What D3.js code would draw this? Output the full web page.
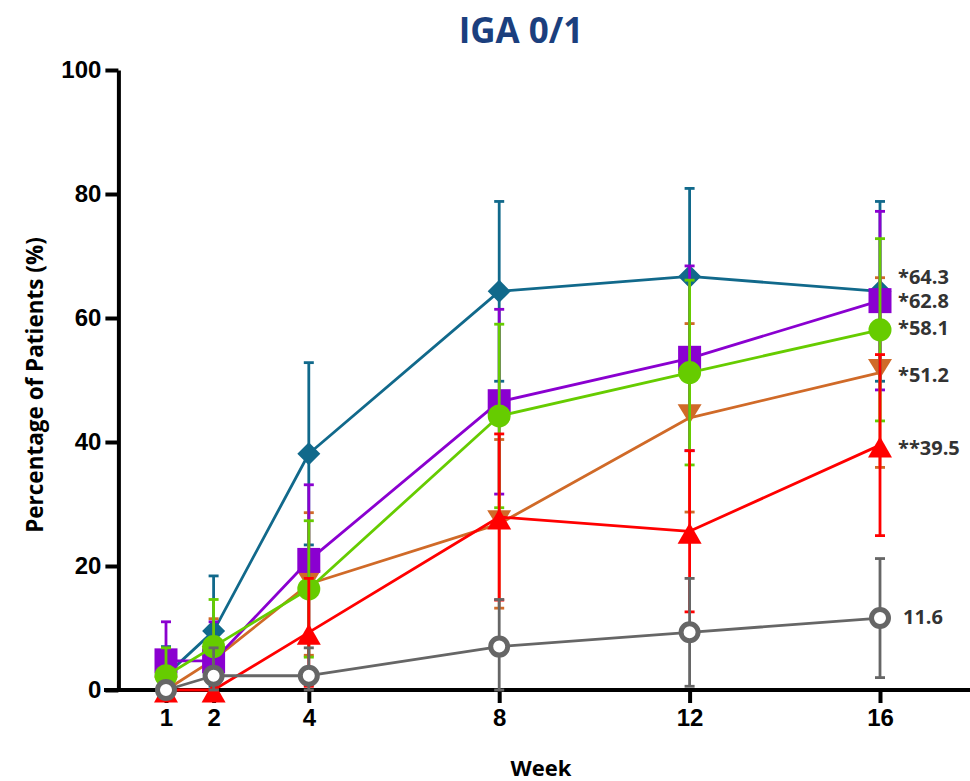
<!DOCTYPE html>
<html>
<head>
<meta charset="utf-8">
<script src="https://cdn.jsdelivr.net/npm/d3@7"></script>
<style>
  html, body { margin: 0; padding: 0; background: #ffffff; }
  svg { display: block; }
</style>
</head>
<body>
<svg id="chart" width="970" height="781"></svg>
<script>
// ---------------- DATA ----------------
const chartTitle = "IGA 0/1";
const xAxisTitle = "Week";
const yAxisTitle = "Percentage of Patients (%)";
const weeks = [1, 2, 4, 8, 12, 16];
const yTickValues = [0, 20, 40, 60, 80, 100];

const seriesNames = ["Teal group", "Orange group", "Purple group", "Green group", "Red group", "Gray group"];

const tealValues   = [2.4, 9.5, 38.1, 64.3, 66.7, 64.3];
const tealUpper    = [7.0, 18.4, 52.8, 78.8, 80.9, 78.8];
const tealLower    = [0, 0.6, 23.4, 49.8, 52.4, 49.8];

const orangeValues = [0, 4.9, 17.1, 26.8, 43.9, 51.2];
const orangeUpper  = [0, 11.5, 28.6, 40.4, 59.1, 66.5];
const orangeLower  = [0, 0, 5.6, 13.2, 28.7, 35.9];

const purpleValues = [4.7, 4.7, 20.9, 46.5, 53.5, 62.8];
const purpleUpper  = [11.0, 11.0, 33.1, 61.4, 68.4, 77.2];
const purpleLower  = [0, 0, 8.7, 31.6, 38.6, 48.4];

const greenValues  = [2.3, 7.0, 16.3, 44.2, 51.2, 58.1];
const greenUpper   = [6.8, 14.6, 27.3, 59.0, 66.1, 72.8];
const greenLower   = [0, 0, 5.3, 29.4, 36.3, 43.4];

const redValues    = [0, 0, 9.3, 27.9, 25.6, 39.5];
const redUpper     = [0, 0, 18.0, 41.3, 38.6, 54.1];
const redLower     = [0, 0, 0.6, 14.5, 12.6, 24.9];

const grayValues   = [0, 2.3, 2.3, 7.0, 9.3, 11.6];
const grayUpper    = [0, 6.8, 6.8, 14.6, 18.0, 21.2];
const grayLower    = [0, 0, 0, 0, 0.6, 2.0];

// end-of-line value labels (week 16)
const endLabels = ["*64.3", "*51.2", "*62.8", "*58.1", "**39.5", "11.6"];

// ---------------- STYLE ----------------
const seriesStyle = [
  { color: "#11698b", symbol: "diamond" },
  { color: "#d06a28", symbol: "triangleDown" },
  { color: "#8a00d0", symbol: "square" },
  { color: "#66cc00", symbol: "circle" },
  { color: "#ff0000", symbol: "triangleUp" },
  { color: "#666666", symbol: "openCircle" }
];
const labelOffsets = [
  { dx: 18, dy: -15 },
  { dx: 18, dy: 2 },
  { dx: 18, dy: 0 },
  { dx: 18, dy: -2 },
  { dx: 18, dy: 3 },
  { dx: 23, dy: -1 }
];
const series = seriesNames.map((name, i) => ({
  name,
  values: [tealValues, orangeValues, purpleValues, greenValues, redValues, grayValues][i],
  upper:  [tealUpper, orangeUpper, purpleUpper, greenUpper, redUpper, grayUpper][i],
  lower:  [tealLower, orangeLower, purpleLower, greenLower, redLower, grayLower][i],
  label: endLabels[i]
}));

// ---------------- CHART ----------------
const svg = d3.select("#chart");
const x = d3.scaleLinear().domain([0, 18]).range([118.4, 975.2]);
const y = d3.scaleLinear().domain([0, 100]).range([690, 70]);

const tickFont = "'Liberation Sans', Arial, sans-serif";
const titleFont = "'Open Sans', 'Noto Sans', sans-serif";

// Title
svg.append("text")
  .attr("x", 521).attr("y", 43)
  .attr("text-anchor", "middle")
  .attr("font-family", titleFont)
  .attr("font-weight", 700)
  .attr("font-size", 35)
  .attr("fill", "#1b3f7e")
  .text(chartTitle);

// Y axis
const yAxis = d3.axisLeft(y).tickValues(yTickValues).tickSize(13).tickPadding(4).tickSizeOuter(0);
const gy = svg.append("g").attr("transform", `translate(${x(0)},0)`).call(yAxis);
gy.select(".domain").attr("stroke", "#000").attr("stroke-width", 4);
gy.selectAll(".tick line").attr("stroke", "#000").attr("stroke-width", 4);
gy.selectAll(".tick text")
  .attr("font-family", tickFont).attr("font-weight", 700).attr("font-size", 24).attr("fill", "#000");

// X axis
const gx = svg.append("g").attr("transform", `translate(0,${y(0)})`)
  .call(d3.axisBottom(x).tickValues(weeks).tickSize(13).tickPadding(6).tickSizeOuter(0));
gx.select(".domain").remove();
gx.insert("line", ":first-child")
  .attr("x1", 104).attr("x2", 972).attr("y1", 0).attr("y2", 0)
  .attr("stroke", "#000").attr("stroke-width", 4);
gx.selectAll(".tick line").attr("stroke", "#000").attr("stroke-width", 4);
gx.selectAll(".tick text")
  .attr("font-family", tickFont).attr("font-weight", 700).attr("font-size", 24).attr("fill", "#000");

// Axis titles
svg.append("text")
  .attr("x", 541).attr("y", 776)
  .attr("text-anchor", "middle")
  .attr("font-family", titleFont).attr("font-weight", 700).attr("font-size", 22)
  .attr("fill", "#000")
  .text(xAxisTitle);
svg.append("text")
  .attr("transform", `translate(43,385) rotate(-90)`)
  .attr("text-anchor", "middle")
  .attr("font-family", titleFont).attr("font-weight", 700).attr("font-size", 22.5)
  .attr("fill", "#000")
  .text(yAxisTitle);

// symbol path generators
function symbolPath(type) {
  switch (type) {
    case "diamond": return "M0,-11.5L11.5,0L0,11.5L-11.5,0Z";
    case "square": return "M-11.5,-12.5H11.5V12.5H-11.5Z";
    case "triangleUp": return "M0,-8.5L12,12.5L-12,12.5Z";
    case "triangleDown": return "M-12,-13.5L12,-13.5L0,6Z";
    default: return null;
  }
}

const line = d3.line().x((d, i) => x(weeks[i])).y(d => y(d));

series.forEach((s, si) => {
  const st = seriesStyle[si];
  const g = svg.append("g").attr("class", "series");
  // error bars
  const eb = g.append("g");
  weeks.forEach((w, i) => {
    const cx = x(w);
    const v = s.values[i];
    [s.upper[i], s.lower[i]].forEach(b => {
      if (Math.abs(b - v) < 1e-9) return;
      eb.append("line").attr("x1", cx).attr("x2", cx).attr("y1", y(v)).attr("y2", y(b))
        .attr("stroke", st.color).attr("stroke-width", 2.8);
      eb.append("line").attr("x1", cx - 5).attr("x2", cx + 5).attr("y1", y(b)).attr("y2", y(b))
        .attr("stroke", st.color).attr("stroke-width", 2.8);
    });
  });
  // line
  g.append("path").attr("d", line(s.values))
    .attr("fill", "none").attr("stroke", st.color).attr("stroke-width", 2.8)
    .attr("stroke-linejoin", "round");
  // markers
  const mk = g.append("g");
  weeks.forEach((w, i) => {
    const cx = x(w), cy = y(s.values[i]);
    if (st.symbol === "circle") {
      mk.append("circle").attr("cx", cx).attr("cy", cy).attr("r", 11.5).attr("fill", st.color);
    } else if (st.symbol === "openCircle") {
      mk.append("circle").attr("cx", cx).attr("cy", cy).attr("r", 8.5)
        .attr("fill", "#fff").attr("stroke", st.color).attr("stroke-width", 5);
    } else {
      mk.append("path").attr("d", symbolPath(st.symbol))
        .attr("transform", `translate(${cx},${cy})`).attr("fill", st.color);
    }
  });
});

// end labels
series.forEach((s, si) => {
  const last = s.values.length - 1;
  const off = labelOffsets[si];
  svg.append("text")
    .attr("x", x(weeks[last]) + off.dx)
    .attr("y", y(s.values[last]) + off.dy)
    .attr("dy", "0.36em")
    .attr("font-family", titleFont).attr("font-weight", 700).attr("font-size", 20)
    .attr("fill", "#333333")
    .text(s.label);
});
</script>
</body>
</html>
